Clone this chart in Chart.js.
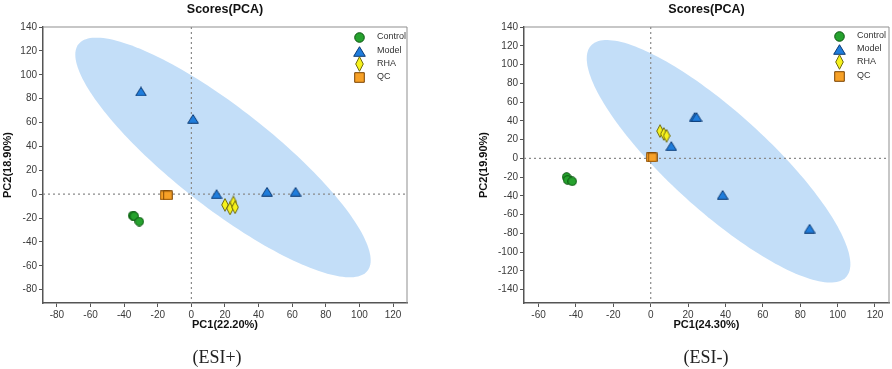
<!DOCTYPE html>
<html>
<head>
<meta charset="utf-8">
<script src="https://cdn.jsdelivr.net/npm/chart.js@4.4.1/dist/chart.umd.min.js"></script>
<style>
  body { margin: 0; background: #fff; }
  #wrap { position: relative; width: 892px; height: 369px; }
  canvas { position: absolute; top: 0; }
  .cap { position: absolute; top: 357px; transform: translate(-50%, -50%);
         font-family: "Liberation Serif", "DejaVu Serif", serif; font-size: 18px; color: #222; white-space: nowrap; }
</style>
</head>
<body>
<div id="wrap">
  <canvas id="pos" width="446" height="369" style="left:0"></canvas>
  <canvas id="neg" width="446" height="369" style="left:446px"></canvas>
  <div class="cap" style="left:217px">(ESI+)</div>
  <div class="cap" style="left:706px">(ESI-)</div>
</div>
<script>
const groups = ['Control', 'Model', 'RHA', 'QC'];

// ESI+ scores [PC1, PC2]
const posControl = [[-35, -18], [-34, -18.5], [-31, -23]];
const posModel = [[-30, 86], [1, 63], [15, 0], [45, 2], [62, 2]];
const posRHA = [[20, -9], [23, -12], [25, -7], [26, -11]];
const posQC = [[-16, -1], [-14, -1]];

// ESI- scores [PC1, PC2]
const negControl = [[-45, -20], [-44.5, -23], [-42, -24.5]];
const negModel = [[23.5, 44], [24.5, 44], [11, 13], [38.5, -39], [85, -75]];
const negRHA = [[5, 29], [7, 26], [8.5, 24]];
const negQC = [[0, 1], [1, 1]];

// axis ticks
const xTicksPos = [-80, -60, -40, -20, 0, 20, 40, 60, 80, 100, 120];
const yTicksPos = [-80, -60, -40, -20, 0, 20, 40, 60, 80, 100, 120, 140];
const xTicksNeg = [-60, -40, -20, 0, 20, 40, 60, 80, 100, 120];
const yTicksNeg = [-140, -120, -100, -80, -60, -40, -20, 0, 20, 40, 60, 80, 100, 120, 140];

// confidence ellipse: centre and semi-axis vectors, in score units
const ellipsePosCenter = [18.8, 30.7];
const ellipsePosMajor = [86, -94.9];
const ellipsePosMinor = [18.1, 32.7];
const ellipseNegCenter = [36.3, -3.2];
const ellipseNegMajor = [68.3, -123.3];
const ellipseNegMinor = [17.6, 39.0];

const FONT = '"Liberation Sans", Arial, sans-serif';

function marker(shape, fill, stroke, k) {
  const sizes = { circle: [10, 10], triangle: [12, 10], diamond: [8, 14], square: [10, 10] };
  const w = Math.round(sizes[shape][0] * k), h = Math.round(sizes[shape][1] * k);
  const c = document.createElement('canvas');
  c.width = w; c.height = h;
  const g = c.getContext('2d');
  g.fillStyle = fill; g.strokeStyle = stroke; g.lineWidth = 1;
  g.beginPath();
  if (shape === 'circle') g.arc(w / 2, h / 2, w / 2 - 0.7, 0, Math.PI * 2);
  if (shape === 'triangle') { g.moveTo(w / 2, 0.7); g.lineTo(w - 0.7, h - 0.7); g.lineTo(0.7, h - 0.7); g.closePath(); }
  if (shape === 'diamond') { g.moveTo(w / 2, 0.7); g.lineTo(w - 0.7, h / 2); g.lineTo(w / 2, h - 0.7); g.lineTo(0.7, h / 2); g.closePath(); }
  if (shape === 'square') g.rect(0.7, 0.7, w - 1.4, h - 1.4);
  g.fill(); g.stroke();
  return c;
}

const styles = [
  ['circle', '#26a22e', '#0b5410'],
  ['triangle', '#1f7ddc', '#0c3a74'],
  ['diamond', '#f6f21c', '#6f6a10'],
  ['square', '#f7a127', '#7a4300'],
];
const markers = styles.map(s => marker(s[0], s[1], s[2], 1));
const legendMarkers = styles.map(s => marker(s[0], s[1], s[2], 1.12));

// ellipse, zero lines and frame
const backdrop = {
  id: 'backdrop',
  beforeDatasetsDraw(chart, args, opts) {
    const { ctx, chartArea: a, scales: { x, y } } = chart;
    ctx.save();
    ctx.beginPath();
    ctx.rect(a.left, a.top, a.width, a.height);
    ctx.clip();
    const [cx, cy] = opts.center, [ux, uy] = opts.major, [vx, vy] = opts.minor;
    ctx.beginPath();
    for (let i = 0; i <= 180; i++) {
      const t = i / 180 * Math.PI * 2;
      const px = x.getPixelForValue(cx + ux * Math.cos(t) + vx * Math.sin(t));
      const py = y.getPixelForValue(cy + uy * Math.cos(t) + vy * Math.sin(t));
      i ? ctx.lineTo(px, py) : ctx.moveTo(px, py);
    }
    ctx.closePath();
    ctx.fillStyle = '#c3def8';
    ctx.fill();
    ctx.restore();

    ctx.save();
    ctx.strokeStyle = '#8a8a8a';
    ctx.lineWidth = 1.2;
    ctx.setLineDash([2, 3]);
    const x0 = x.getPixelForValue(0), y0 = y.getPixelForValue(0);
    ctx.beginPath();
    ctx.moveTo(x0, a.top); ctx.lineTo(x0, a.bottom);
    ctx.moveTo(a.left, y0); ctx.lineTo(a.right, y0);
    ctx.stroke();
    ctx.setLineDash([]);
    ctx.strokeStyle = '#8f8f8f';
    ctx.lineWidth = 1;
    ctx.beginPath();
    ctx.moveTo(a.left, a.top); ctx.lineTo(a.right, a.top); ctx.lineTo(a.right, a.bottom);
    ctx.stroke();
    ctx.restore();
  }
};

const innerLegend = {
  id: 'innerLegend',
  afterDatasetsDraw(chart, args, opts) {
    const { ctx } = chart;
    ctx.save();
    ctx.font = '9px ' + FONT;
    ctx.fillStyle = '#333';
    ctx.textBaseline = 'middle';
    chart.data.datasets.forEach((ds, i) => {
      const yy = opts.rows[i];
      const m = legendMarkers[i];
      ctx.drawImage(m, Math.round(opts.markX - m.width / 2), Math.round(yy - m.height / 2));
      ctx.fillText(ds.label, opts.textX, yy);
    });
    ctx.restore();
  }
};

function toPoints(arr) { return arr.map(([x, y]) => ({ x, y })); }

function makeChart(id, cfg) {
  const series = [cfg.control, cfg.model, cfg.rha, cfg.qc];
  const datasets = series.map((s, i) => ({
    label: groups[i],
    data: toPoints(s),
    pointStyle: markers[i],
    pointRadius: 6,
  }));
  const axisTitle = (text, pad) => ({
    display: true, text, color: '#111', padding: pad,
    font: { family: FONT, size: 11, weight: 'bold' },
  });
  const tickOpts = { font: { family: FONT, size: 10 }, color: '#3a3a3a', padding: 2, maxRotation: 0, autoSkip: false };
  const gridOpts = { drawOnChartArea: false, drawTicks: true, tickLength: 4, color: '#555', lineWidth: 1 };

  return new Chart(document.getElementById(id), {
    type: 'scatter',
    data: { datasets },
    options: {
      responsive: false,
      animation: false,
      events: [],
      layout: { autoPadding: false, padding: { left: cfg.padLeft, right: cfg.padRight, top: 0, bottom: 29 } },
      scales: {
        x: {
          type: 'linear', min: cfg.xRange[0], max: cfg.xRange[1],
          afterBuildTicks: s => { s.ticks = cfg.xTicks.map(v => ({ value: v })); },
          afterFit: s => { s.height = 37; },
          grid: gridOpts, border: { color: '#555', width: 1.5 }, ticks: tickOpts,
          title: axisTitle(cfg.xTitle, { top: 0, bottom: 8 }),
        },
        y: {
          type: 'linear', min: cfg.yRange[0], max: cfg.yRange[1],
          afterBuildTicks: s => { s.ticks = cfg.yTicks.map(v => ({ value: v })); },
          afterFit: s => { s.width = cfg.yWidth; },
          grid: gridOpts, border: { color: '#555', width: 1.5 }, ticks: tickOpts,
          title: axisTitle(cfg.yTitle, { top: 1, bottom: 0 }),
        },
      },
      plugins: {
        legend: { display: false },
        tooltip: { enabled: false },
        title: {
          display: true, text: 'Scores(PCA)', fullSize: false, color: '#111',
          font: { family: FONT, size: 12.5, weight: 'bold' }, padding: { top: 2.5, bottom: 9.5 },
        },
        backdrop: { center: cfg.ellCenter, major: cfg.ellMajor, minor: cfg.ellMinor },
        innerLegend: cfg.legend,
      },
    },
    plugins: [backdrop, innerLegend],
  });
}

makeChart('pos', {
  control: posControl, model: posModel, rha: posRHA, qc: posQC,
  xRange: [-88.3, 128.3], yRange: [-91.2, 140], xTicks: xTicksPos, yTicks: yTicksPos,
  xTitle: 'PC1(22.20%)', yTitle: 'PC2(18.90%)',
  ellCenter: ellipsePosCenter, ellMajor: ellipsePosMajor, ellMinor: ellipsePosMinor,
  padLeft: 0, padRight: 39, yWidth: 43,
  legend: { markX: 359, textX: 377, rows: [37, 51, 64, 77] },
});

makeChart('neg', {
  control: negControl, model: negModel, rha: negRHA, qc: negQC,
  xRange: [-67.8, 127.5], yRange: [-154.3, 140], xTicks: xTicksNeg, yTicks: yTicksNeg,
  xTitle: 'PC1(24.30%)', yTitle: 'PC2(19.90%)',
  ellCenter: ellipseNegCenter, ellMajor: ellipseNegMajor, ellMinor: ellipseNegMinor,
  padLeft: 30, padRight: 3, yWidth: 48,
  legend: { markX: 393, textX: 411, rows: [36, 49, 62, 76] },
});
</script>
</body>
</html>
